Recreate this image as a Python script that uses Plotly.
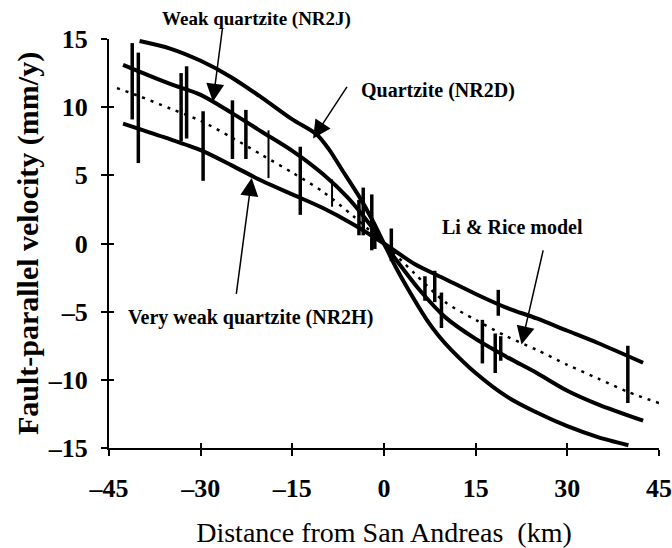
import plotly.graph_objects as go

# Model velocity profiles across the San Andreas fault (distance in km, velocity in mm/y)
nr2d_x = [-40, -35, -30, -25, -20, -15, -11, -9, -7, -4, -2, 0, 2, 4, 7, 9, 11, 15, 20, 25, 30, 35, 40]
nr2d_y = [14.85, 14.3, 13.4, 12.2, 10.7, 9.1, 8.0, 6.9, 5.5, 3.4, 1.8, 0.0, -1.8, -3.4, -5.6, -6.8, -7.8, -9.5, -11.2, -12.4, -13.4, -14.2, -14.8]

nr2j_x = [-42.7, -35, -30, -25, -20, -15, -10, -6, -3, 0, 3, 6, 10, 15, 20, 25, 30, 35, 42.4]
nr2j_y = [13.1, 11.7, 10.9, 9.6, 8.2, 6.8, 5.1, 3.4, 1.8, 0.0, -1.8, -3.5, -5.4, -7.0, -8.3, -9.5, -10.8, -11.8, -13.0]

nr2h_x = [-42.7, -36, -30, -25, -20, -15, -10, -5, 0, 5, 10, 15, 20, 25, 30, 35, 42.4]
nr2h_y = [8.8, 7.8, 6.85, 5.75, 4.6, 3.6, 2.6, 1.4, 0.0, -1.5, -2.6, -3.7, -4.7, -5.5, -6.4, -7.3, -8.75]

lirice_x = [-43.7, -40, -35, -30, -25, -20, -15, -10, -5, 0, 5, 10, 15, 20, 25, 30, 35, 40, 45]
lirice_y = [11.4, 10.8, 9.9, 9.0, 7.8, 6.5, 5.2, 3.8, 2.0, 0.0, -2.2, -4.3, -5.6, -6.8, -7.8, -8.9, -9.9, -10.9, -11.7]

# GPS velocity ranges (lower and upper bound of each observation)
obs_x = [-41.2, -40.2, -33.2, -32.3, -29.6, -24.8, -22.6, -13.7, -4.1, -3.4, -2.0, -1.5, 1.2,
         6.7, 8.3, 9.4, 16.1, 18.2, 18.7, 19.1, 39.9]
obs_lo = [9.1, 5.9, 7.5, 7.7, 4.6, 6.2, 6.2, 2.1, 0.6, 0.6, -0.5, -0.4, -1.3,
          -4.2, -4.3, -6.2, -8.8, -9.5, -5.3, -8.6, -11.7]
obs_hi = [14.7, 14.0, 12.5, 13.0, 9.7, 10.5, 9.8, 7.1, 3.2, 4.1, 3.6, 0.8, 1.1,
          -2.4, -2.0, -3.6, -5.6, -6.6, -3.4, -6.8, -7.5]

thin_x = [-18.9, -8.5]
thin_lo = [4.8, 2.7]
thin_hi = [8.3, 4.7]

x_ticks = [-45, -30, -15, 0, 15, 30, 45]
x_tick_text = ["–45", "–30", "–15", "0", "15", "30", "45"]
y_ticks = [-15, -10, -5, 0, 5, 10, 15]
y_tick_text = ["–15", "–10", "–5", "0", "5", "10", "15"]

SERIF = "Liberation Serif"


def segments(xs, lo, hi):
    sx, sy = [], []
    for x, a, b in zip(xs, lo, hi):
        sx += [x, x, None]
        sy += [a, b, None]
    return sx, sy


fig = go.Figure()

for xs, ys in [(nr2d_x, nr2d_y), (nr2j_x, nr2j_y), (nr2h_x, nr2h_y)]:
    fig.add_trace(go.Scatter(x=xs, y=ys, mode="lines", line=dict(color="black", width=4, shape="spline", smoothing=0.8),
                             hoverinfo="skip"))

fig.add_trace(go.Scatter(x=lirice_x, y=lirice_y, mode="lines",
                         line=dict(color="black", width=2.5, dash="3px,6px", shape="spline", smoothing=0.8),
                         hoverinfo="skip"))

bx, by = segments(obs_x, obs_lo, obs_hi)
fig.add_trace(go.Scatter(x=bx, y=by, mode="lines", line=dict(color="black", width=3.5), hoverinfo="skip"))
tx, ty = segments(thin_x, thin_lo, thin_hi)
fig.add_trace(go.Scatter(x=tx, y=ty, mode="lines", line=dict(color="black", width=2), hoverinfo="skip"))

# invisible trace that carries the overlay axes used for the inner half of the ticks
fig.add_trace(go.Scatter(x=[0], y=[0], xaxis="x2", yaxis="y2", mode="markers",
                         marker=dict(opacity=0), hoverinfo="skip"))

axis_common = dict(showgrid=False, zeroline=False, linecolor="black", linewidth=2, automargin=False,
                   tickcolor="black", tickwidth=2, ticklen=6, ticks="outside", showline=True)

fig.update_layout(
    width=672, height=548,
    margin=dict(l=109, r=13, t=39, b=100),
    paper_bgcolor="white", plot_bgcolor="white",
    showlegend=False,
    font=dict(family=SERIF, color="black"),
    xaxis=dict(range=[-45, 45], tickvals=x_ticks, ticktext=x_tick_text,
               tickfont=dict(size=26, family=SERIF, weight="bold"), ticklabelstandoff=10,
               title=dict(text="Distance from San Andreas  (km)", font=dict(size=28, family=SERIF), standoff=24),
               **axis_common),
    yaxis=dict(range=[-15, 15], tickvals=y_ticks, ticktext=y_tick_text,
               tickfont=dict(size=26, family=SERIF, weight="bold"), ticklabelstandoff=8,
               title=dict(text="Fault-parallel velocity (mm/y)", font=dict(size=30, family=SERIF, weight="bold"), standoff=0),
               **axis_common),
    xaxis2=dict(range=[-45, 45], tickvals=x_ticks, overlaying="x", anchor="y2", side="bottom",
                showticklabels=False, showgrid=False, zeroline=False, showline=False, automargin=False,
                ticks="inside", ticklen=5, tickwidth=2, tickcolor="black"),
    yaxis2=dict(range=[-15, 15], tickvals=y_ticks, overlaying="y", anchor="x2", side="left",
                showticklabels=False, showgrid=False, zeroline=False, showline=False, automargin=False,
                ticks="inside", ticklen=5, tickwidth=2, tickcolor="black"),
)

label_font = dict(family=SERIF, size=20, color="black", weight="bold")
# labels inside the axes use data coordinates
labels = [
    ("Quartzite (NR2D)", 8.9, 11.2),
    ("Li & Rice model", 21.0, 1.2),
    ("Very weak quartzite (NR2H)", -21.85, -5.4),
]
for text, x, y in labels:
    fig.add_annotation(x=x, y=y, text=text, showarrow=False, font=label_font,
                       xanchor="center", yanchor="middle")
# this one sits above the top of the y range
fig.add_annotation(x=0.268, y=1.049, xref="paper", yref="paper", text="Weak quartzite (NR2J)",
                   showarrow=False, font=dict(label_font, size=19), xanchor="center", yanchor="middle")

# arrows: (tip x, tip y, tail x, tail y)
arrows = [
    (-28.0, 10.4, -26.4, 15.9),
    (-11.6, 7.7, -5.9, 11.6),
    (22.5, -7.4, 26.1, -0.4),
    (-21.65, 4.8, -24.2, -3.8),
]
for x, y, ax, ay in arrows:
    fig.add_annotation(x=x, y=y, ax=ax, ay=ay, axref="x", ayref="y", text="",
                       showarrow=True, arrowhead=2, arrowsize=2.4, arrowwidth=1.5,
                       arrowcolor="black")

fig.write_html("out.html")
